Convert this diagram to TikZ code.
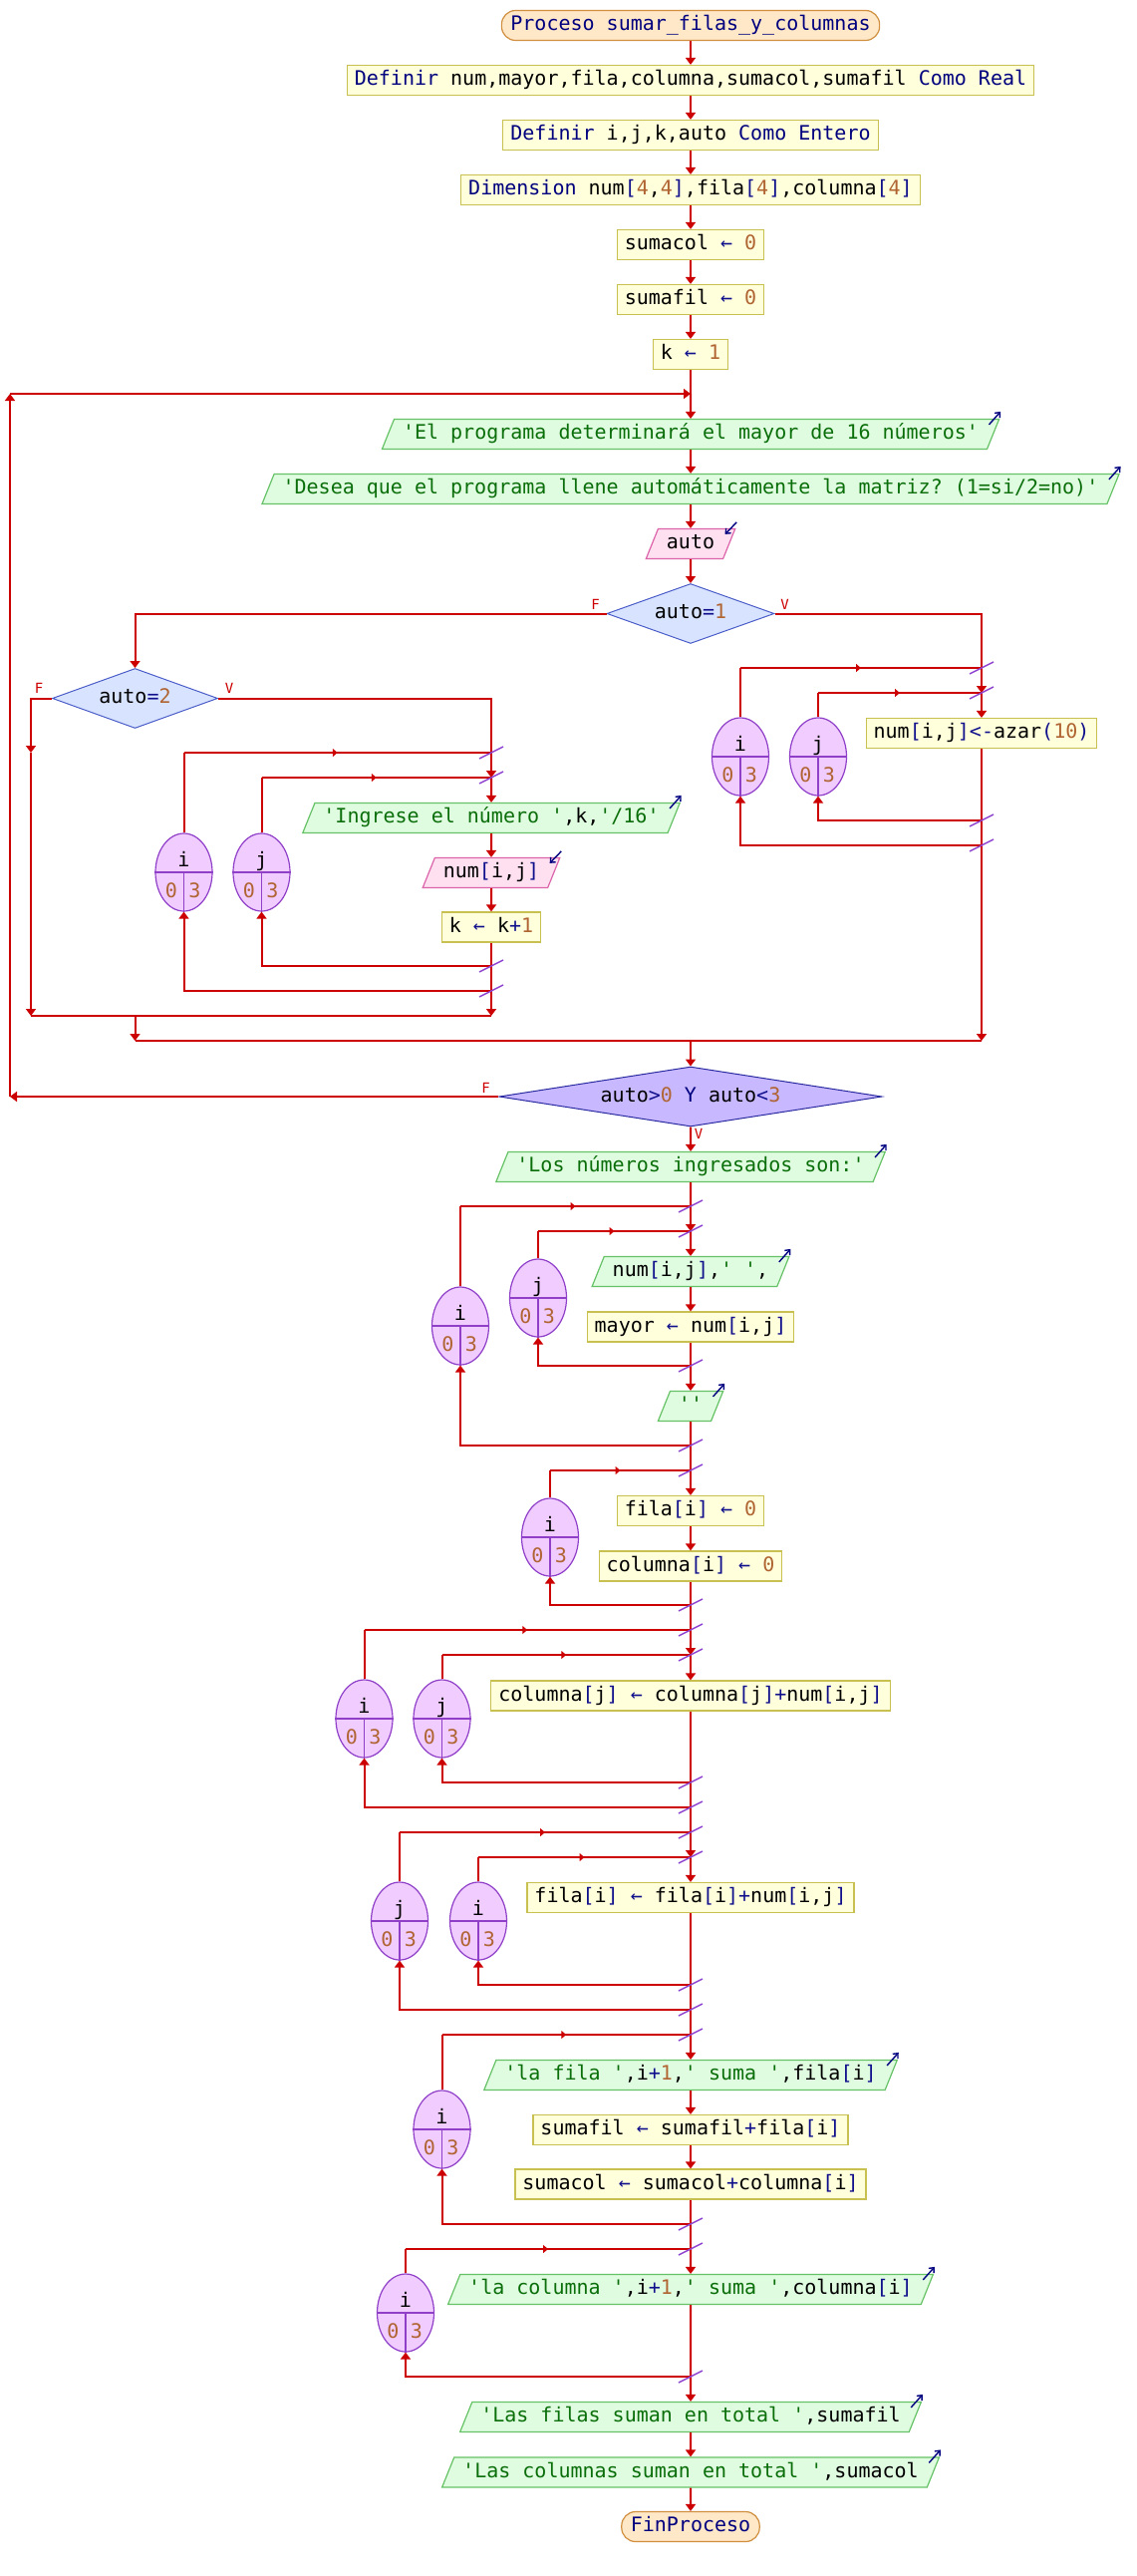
\documentclass[tikz,border=0pt]{standalone}
\usepackage{fontspec}
\setmonofont{DejaVu Sans Mono}
\usetikzlibrary{shapes.geometric,arrows.meta,decorations.markings,calc}

% palette
\definecolor{flowred}{HTML}{CC0000}
\definecolor{hashc}{HTML}{8E44D0}
\definecolor{kwc}{HTML}{00007F}
\definecolor{opc}{HTML}{10108C}
\definecolor{numc}{HTML}{B06432}
\definecolor{strc}{HTML}{0A6E0A}
\definecolor{termfill}{HTML}{FFE8C8}
\definecolor{termdraw}{HTML}{D09040}
\definecolor{procfill}{HTML}{FFFFDC}
\definecolor{procdraw}{HTML}{C8C050}
\definecolor{outfill}{HTML}{E0FCE0}
\definecolor{outdraw}{HTML}{66C266}
\definecolor{infill}{HTML}{FFE0F0}
\definecolor{indraw}{HTML}{DC64AA}
\definecolor{condfill}{HTML}{D8E4FF}
\definecolor{conddraw}{HTML}{4A5CC8}
\definecolor{bigfill}{HTML}{C8B8FF}
\definecolor{bigdraw}{HTML}{2828A0}
\definecolor{ellfill}{HTML}{F0CCFF}
\definecolor{elldraw}{HTML}{9040C8}
\definecolor{iconc}{HTML}{000080}

% syntax colouring
\newcommand\cKw[1]{\textcolor{kwc}{#1}}
\newcommand\cOp[1]{\textcolor{opc}{#1}}
\newcommand\cNum[1]{\textcolor{numc}{#1}}
\newcommand\cStr[1]{\textcolor{strc}{#1}}

% counter ellipse of a Para loop: name, x, y, variable
\newcommand\forloop[4]{%
  \node[loopell] (#1) at (#2,#3) {};
  \draw[elldraw, line width=0.6pt] (#1.west) -- (#1.east) (#1.center) -- (#1.south);
  \node[anchor=base, inner sep=0pt] (#1-v) at ([yshift=3pt]#1.center) {#4};
  \node[anchor=base, inner sep=0pt, text=numc] (#1-a) at ([xshift=-6.3pt,yshift=-12.5pt]#1.center) {0};
  \node[anchor=base, inner sep=0pt, text=numc] (#1-b) at ([xshift=5.4pt,yshift=-12.5pt]#1.center) {3};
}
% wires of a loop: ellipse, entry junction, exit junction
\newcommand\loopwires[3]{%
  \draw[flow] (#1.north) -- (#1.north |- #2);
  \draw[midarr] (#1.north |- #2) -- (#2);
  \draw[flowa] (#3) -| (#1.south);
}
\newcommand\hashmark[1]{\draw[hash] ([shift={(-6pt,-3pt)}]#1) -- ([shift={(6pt,3pt)}]#1);}
\newcommand\outicon[1]{\draw[iconarrow] ([xshift=-5.5pt,yshift=-3pt]#1.top right corner) -- ([xshift=0.3pt,yshift=3.5pt]#1.top right corner);}
\newcommand\inicon[1]{\draw[iconarrow] ([xshift=0.3pt,yshift=3pt]#1.top right corner) -- ([xshift=-5.5pt,yshift=-3pt]#1.top right corner);}

\begin{document}
\begin{tikzpicture}[x=0.5pt, y=-0.5pt,
  font=\ttfamily\fontsize{10pt}{12pt}\selectfont,
  term/.style={draw=termdraw, fill=termfill, rounded corners=7pt, line width=0.6pt,
    inner xsep=4.5pt, inner ysep=2.5pt, text height=7.5pt, text depth=2.5pt, text=kwc},
  proc/.style={draw=procdraw, fill=procfill, line width=0.6pt,
    inner xsep=3.75pt, inner ysep=2.5pt, text height=7.5pt, text depth=2.5pt},
  outp/.style={trapezium, trapezium left angle=68, trapezium right angle=112,
    draw=outdraw, fill=outfill, line width=0.6pt,
    inner xsep=4.25pt, inner ysep=2.5pt, text height=7.5pt, text depth=2.5pt},
  inp/.style={outp, draw=indraw, fill=infill},
  cond/.style={diamond, draw=conddraw, fill=condfill, line width=0.5pt, inner sep=0pt,
    aspect=2.8, minimum width=84pt, minimum height=30pt, text height=7.5pt, text depth=2.5pt},
  bigcond/.style={cond, draw=bigdraw, fill=bigfill, aspect=6.4, minimum width=192pt},
  loopell/.style={ellipse, draw=elldraw, fill=ellfill, line width=0.6pt, inner sep=0pt,
    minimum width=28.5pt, minimum height=39pt},
  flow/.style={draw=flowred, line width=1pt},
  flowa/.style={flow, -{Triangle[length=3.5pt,width=5pt]}},
  midarr/.style={flow, postaction={decorate}, decoration={markings,
    mark=at position 0.5 with {\arrow{Triangle[length=2.5pt,width=4pt]}}}},
  hash/.style={draw=hashc, line width=0.75pt},
  flab/.style={text=flowred, font=\ttfamily\fontsize{7pt}{8pt}\selectfont, inner sep=0pt},
  iconarrow/.style={draw=iconc, line width=0.7pt, -{Straight Barb[length=2pt,width=3.5pt]}}
]
\useasboundingbox (0,0) rectangle (1140,2584);

% ---------- declarations ----------
\node[term] (pstart) at (693,25.5) {Proceso sumar\_filas\_y\_columnas};
\node[proc] (def1) at (693,80.5) {\cKw{Definir} num,mayor,fila,columna,sumacol,sumafil \cKw{Como Real}};
\node[proc] (def2) at (693,135.5) {\cKw{Definir} i,j,k,auto \cKw{Como Entero}};
\node[proc] (dim) at (693,190.5) {\cKw{Dimension} num\cOp{[}\cNum{4},\cNum{4}\cOp{]},fila\cOp{[}\cNum{4}\cOp{]},columna\cOp{[}\cNum{4}\cOp{]}};
\node[proc] (a1) at (693,245.5) {sumacol \cOp{←} \cNum{0}};
\node[proc] (a2) at (693,300.5) {sumafil \cOp{←} \cNum{0}};
\node[proc] (a3) at (693,355.5) {k \cOp{←} \cNum{1}};

% ---------- Repetir ... Hasta Que ----------
\node[outp] (o1) at (693,435.5) {\cStr{'El programa determinará el mayor de 16 números'}};
\node[outp] (o2) at (693,490.5) {\cStr{'Desea que el programa llene automáticamente la matriz? (1=si/2=no)'}};
\node[inp] (in1) at (693,545.5) {auto};
\node[cond] (d1) at (693,615.5) {auto\cOp{=}\cNum{1}};
\node[cond, minimum width=83pt] (d2) at (135.5,700.5) {auto\cOp{=}\cNum{2}};

\node[proc] (azar) at (985,735.5) {num\cOp{[}i,j\cOp{]<-}azar\cOp{(}\cNum{10}\cOp{)}};
\node[outp] (oing) at (493,820.5) {\cStr{'Ingrese el número '},k,\cStr{'/16'}};
\node[inp] (in2) at (493,875.5) {num\cOp{[}i,j\cOp{]}};
\node[proc] (ak) at (493,930) {k \cOp{←} k\cOp{+}\cNum{1}};

\node[bigcond] (d3) at (693,1100) {auto\cOp{>}\cNum{0} \cKw{Y} auto\cOp{<}\cNum{3}};

% ---------- results ----------
\node[outp] (o3) at (693,1170.5) {\cStr{'Los números ingresados son:'}};
\node[outp] (o4) at (693,1275.5) {num\cOp{[}i,j\cOp{]},\cStr{' '},};
\node[proc] (a4) at (693,1331) {mayor \cOp{←} num\cOp{[}i,j\cOp{]}};
\node[outp] (o5) at (693,1410.5) {\cStr{''}};
\node[proc] (a5) at (693,1515.5) {fila\cOp{[}i\cOp{]} \cOp{←} \cNum{0}};
\node[proc] (a6) at (693,1571) {columna\cOp{[}i\cOp{]} \cOp{←} \cNum{0}};
\node[proc] (a7) at (693,1701) {columna\cOp{[}j\cOp{]} \cOp{←} columna\cOp{[}j\cOp{]+}num\cOp{[}i,j\cOp{]}};
\node[proc] (a8) at (693,1903.5) {fila\cOp{[}i\cOp{]} \cOp{←} fila\cOp{[}i\cOp{]+}num\cOp{[}i,j\cOp{]}};
\node[outp] (o6) at (693,2081.5) {\cStr{'la fila '},i\cOp{+}\cNum{1},\cStr{' suma '},fila\cOp{[}i\cOp{]}};
\node[proc] (a9) at (693,2136.5) {sumafil \cOp{←} sumafil\cOp{+}fila\cOp{[}i\cOp{]}};
\node[proc] (a10) at (693,2191) {sumacol \cOp{←} sumacol\cOp{+}columna\cOp{[}i\cOp{]}};
\node[outp] (o7) at (693,2296.5) {\cStr{'la columna '},i\cOp{+}\cNum{1},\cStr{' suma '},columna\cOp{[}i\cOp{]}};
\node[outp] (o8) at (693,2424.5) {\cStr{'Las filas suman en total '},sumafil};
\node[outp] (o9) at (693,2480) {\cStr{'Las columnas suman en total '},sumacol};
\node[term] (pend) at (693,2534.5) {FinProceso};

% in/out markers
\foreach \n in {o1,o2,oing,o3,o4,o5,o6,o7,o8,o9} {\outicon{\n}}
\inicon{in1}
\inicon{in2}

% ---------- loop counters ----------
\forloop{eRi}{743}{759}{i}
\forloop{eRj}{821}{759}{j}
\forloop{eLi}{184.5}{875}{i}
\forloop{eLj}{262.5}{875}{j}
\forloop{eAi}{462}{1330}{i}
\forloop{eAj}{540}{1302}{j}
\forloop{ePi}{552}{1542}{i}
\forloop{eCi}{365.5}{1724}{i}
\forloop{eCj}{443.5}{1724}{j}
\forloop{eDj}{401}{1927}{j}
\forloop{eDi}{480}{1927}{i}
\forloop{eEi}{443.5}{2136}{i}
\forloop{eGi}{407}{2320}{i}

% ---------- junctions ----------
\coordinate (jLoop) at (693,395);
\coordinate (jBack1) at (10,1100);
\coordinate (jBack2) at (10,395);
\coordinate (jR1) at (985,670);
\coordinate (jR2) at (985,695);
\coordinate (jR3) at (985,823);
\coordinate (jR4) at (985,848);
\coordinate (jL1) at (493,755);
\coordinate (jL2) at (493,780);
\coordinate (jL3) at (493,969);
\coordinate (jL4) at (493,994);
\coordinate (jF1) at (31,755);
\coordinate (jM1L) at (31,1019);
\coordinate (jM1R) at (493,1019);
\coordinate (jM1C) at (135.5,1019);
\coordinate (jM2L) at (135.5,1044);
\coordinate (jM2R) at (985,1044);
\coordinate (jM2C) at (693,1044);
\coordinate (jA1) at (693,1210);
\coordinate (jA2) at (693,1235);
\coordinate (jA3) at (693,1370);
\coordinate (jA4) at (693,1450);
\coordinate (jP1) at (693,1475);
\coordinate (jP2) at (693,1610);
\coordinate (jC1) at (693,1635);
\coordinate (jC2) at (693,1660);
\coordinate (jC3) at (693,1788);
\coordinate (jC4) at (693,1813);
\coordinate (jD1) at (693,1838);
\coordinate (jD2) at (693,1863);
\coordinate (jD3) at (693,1991);
\coordinate (jD4) at (693,2016);
\coordinate (jE1) at (693,2041);
\coordinate (jE2) at (693,2231);
\coordinate (jG1) at (693,2256);
\coordinate (jG2) at (693,2384);

% ---------- main flow ----------
\foreach \a/\b in {pstart/def1, def1/def2, def2/dim, dim/a1, a1/a2, a2/a3,
    jLoop/o1, o1/o2, o2/in1, in1/d1,
    jR1/jR2, jR2/azar, jR4/jM2R,
    jL1/jL2, jL2/oing, oing/in2, in2/ak, jL4/jM1R,
    jF1/jM1L, jM1C/jM2L, jM2C/d3,
    d3/jBack1, jBack1/jBack2, jBack2/jLoop,
    d3/o3, jA1/jA2, jA2/o4, o4/a4, jA3/o5, jP1/a5, a5/a6,
    jC1/jC2, jC2/a7, jD1/jD2, jD2/a8, jE1/o6, o6/a9, a9/a10,
    jG1/o7, jG2/o8, o8/o9, o9/pend}
  {\draw[flowa] (\a) -- (\b);}
\foreach \a/\b in {a3/jLoop, azar/jR3, jR3/jR4, ak/jL3, jL3/jL4,
    jM1L/jM1R, jM2L/jM2R,
    o3/jA1, a4/jA3, o5/jA4, jA4/jP1, a6/jP2, jP2/jC1,
    a7/jC3, jC3/jC4, jC4/jD1, a8/jD3, jD3/jD4, jD4/jE1,
    a10/jE2, jE2/jG1, o7/jG2}
  {\draw[flow] (\a) -- (\b);}

% branches of the decisions
\draw[flowa] (d1.west) -| (d2.north);
\draw[flow] (d1.east) -| (jR1);
\draw[flow] (d2.east) -| (jL1);
\draw[flowa] (d2.west) -| (jF1);

\node[flab] (d1F) at ([xshift=-5.5pt,yshift=4.5pt]d1.west) {F};
\node[flab] (d1V) at ([xshift=5pt,yshift=4.5pt]d1.east) {V};
\node[flab] (d2F) at ([xshift=-6.5pt,yshift=5pt]d2.west) {F};
\node[flab] (d2V) at ([xshift=5.5pt,yshift=5pt]d2.east) {V};
\node[flab] (d3F) at ([xshift=-6.5pt,yshift=4.5pt]d3.west) {F};
\node[flab] (d3V) at ([xshift=4pt,yshift=-3.5pt]d3.south) {V};

% ---------- loop wiring ----------
\loopwires{eRi}{jR1}{jR4}
\loopwires{eRj}{jR2}{jR3}
\loopwires{eLi}{jL1}{jL4}
\loopwires{eLj}{jL2}{jL3}
\loopwires{eAi}{jA1}{jA4}
\loopwires{eAj}{jA2}{jA3}
\loopwires{ePi}{jP1}{jP2}
\loopwires{eCi}{jC1}{jC4}
\loopwires{eCj}{jC2}{jC3}
\loopwires{eDj}{jD1}{jD4}
\loopwires{eDi}{jD2}{jD3}
\loopwires{eEi}{jE1}{jE2}
\loopwires{eGi}{jG1}{jG2}

\foreach \j in {jR1,jR2,jR3,jR4,jL1,jL2,jL3,jL4,jA1,jA2,jA3,jA4,jP1,jP2,
    jC1,jC2,jC3,jC4,jD1,jD2,jD3,jD4,jE1,jE2,jG1,jG2}
  {\hashmark{\j}}
\end{tikzpicture}
\end{document}
